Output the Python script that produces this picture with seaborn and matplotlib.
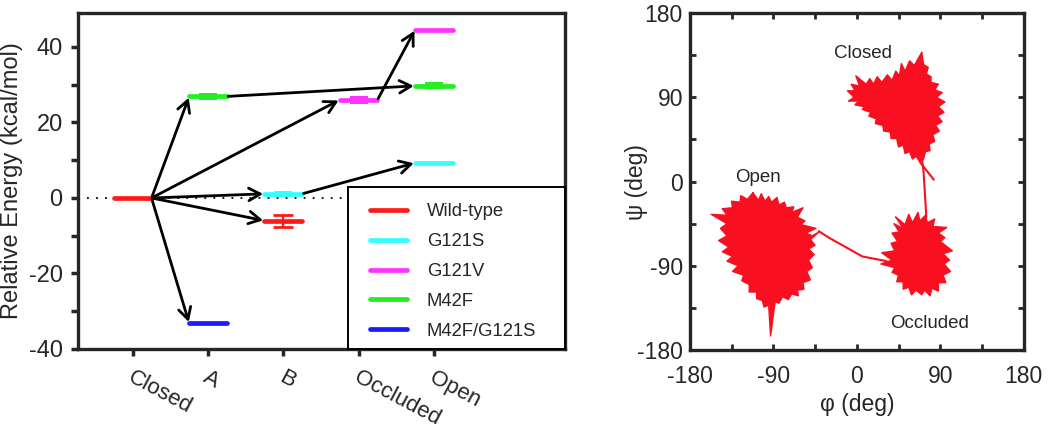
import matplotlib
matplotlib.use("Agg")
import numpy as np
import pandas as pd
import seaborn as sns
import matplotlib.pyplot as plt
import matplotlib.transforms as mtransforms
from matplotlib.patches import Rectangle

# ---------------- left panel data: relative energy levels ----------------
states = ["Closed", "A", "B", "Occluded", "Open"]
series = ["Wild-type", "G121S", "G121V", "M42F", "M42F/G121S"]
series_colors = ["#ff1a1a", "#33ffff", "#ff33ff", "#22ee22", "#1a1aff"]

level_series = ["Wild-type", "Wild-type", "G121S", "G121S", "G121V", "G121V",
                "M42F", "M42F", "M42F/G121S"]
level_state = [0, 2, 2, 4, 3, 4, 1, 4, 1]
level_energy = [0.0, -6.0, 1.1, 9.3, 26.0, 44.6, 26.9, 29.7, -33.2]
level_err = [0.0, 1.6, 0.8, 0.0, 1.1, 0.0, 0.9, 0.9, 0.0]
level_capped = [False, True, False, False, False, False, False, False, False]

# arrows: (from level index, to level index)
transitions = [(0, 6), (0, 8), (0, 4), (0, 2), (0, 1), (6, 7), (4, 5), (2, 3)]

# ---------------- right panel data: phi/psi trajectory outlines ----------------
closed_phi = [70, 72, 77, 75, 80, 80, 88, 84, 92, 86, 95, 88, 94, 87, 92, 85, 89, 82,
              84, 78, 79, 74, 72, 68, 64, 60, 57, 52, 50, 45, 43, 37, 36, 29, 28, 20,
              21, 13, 15, 6, 8, -2, 2, -9, -3, -10, -2, -6, 3, -1, 10, 14, 18, 22, 27,
              33, 38, 42, 46, 48, 52, 57, 62]
closed_psi = [138, 125, 122, 115, 112, 106, 104, 98, 95, 90, 85, 80, 74, 70, 64, 60, 54,
              50, 43, 40, 33, 32, 24, 21, 27, 24, 32, 30, 39, 37, 46, 46, 53, 54, 60, 62,
              67, 70, 74, 77, 80, 82, 86, 86, 90, 97, 97, 104, 102, 113, 104, 110, 104,
              112, 106, 114, 108, 118, 113, 126, 118, 129, 124]

occluded_phi = [42, 52, 56, 60, 66, 68, 74, 76, 84, 82, 97, 88, 95, 90, 103, 93, 100,
                94, 101, 93, 96, 88, 88, 81, 79, 73, 70, 64, 59, 56, 50, 50, 43, 45,
                38, 41, 26, 38, 27, 41, 37, 44, 38, 46, 40, 50]
occluded_psi = [-38, -46, -35, -44, -33, -42, -36, -44, -40, -48, -49, -55, -60, -64,
                -74, -77, -84, -88, -96, -100, -108, -108, -117, -114, -122, -116, -121,
                -116, -121, -113, -115, -107, -107, -100, -97, -92, -88, -84, -76, -74,
                -66, -64, -55, -54, -45, -50]

open_phi = [-112, -106, -103, -99, -95, -92, -86, -84, -78, -76, -68, -70, -58, -64,
            -56, -60, -44, -55, -48, -41, -50, -45, -52, -46, -52, -48, -54, -50, -58,
            -57, -64, -63, -70, -74, -80, -84, -88, -93, -95, -100, -102, -108, -108,
            -116, -116, -124, -122, -134, -128, -140, -134, -145, -138, -149, -140,
            -147, -140, -157, -140, -145, -134, -135, -126, -125, -118]
open_psi = [-12, -20, -13, -21, -16, -22, -17, -25, -22, -28, -27, -33, -28, -38, -42,
            -46, -50, -55, -58, -54, -62, -68, -72, -78, -84, -92, -96, -105, -108,
            -115, -116, -122, -120, -126, -123, -130, -128, -165, -132, -134, -127,
            -125, -118, -118, -110, -106, -100, -96, -90, -85, -80, -75, -70, -63, -58,
            -50, -45, -35, -36, -29, -28, -21, -22, -15, -19]

link_open_phi = [-41, -30, 6, 32]
link_open_psi = [-53, -60, -80, -85]
link_closed_phi = [70, 72, 75]
link_closed_psi = [27, 10, -38]
spur_phi = [68, 83]
spur_psi = [21, 2]

region_names = ["Closed", "Open", "Occluded"]
region_phi = [7, -107, 78]
region_psi = [137, 4, -152]

# ---------------- figure ----------------
sns.set_style("ticks")
plt.rcParams["font.family"] = ["Liberation Sans", "DejaVu Sans"]
plt.rcParams["axes.unicode_minus"] = False

fig = plt.figure(figsize=(10.5, 4.29), dpi=100)
ax1 = fig.add_axes([0.0743, 0.1865, 0.4638, 0.7832])
ax2 = fig.add_axes([0.657, 0.184, 0.318, 0.7855])

color_of = dict(zip(series, series_colors))
half = 0.25

# level segments
rows = []
for i, (s, st, e) in enumerate(zip(level_series, level_state, level_energy)):
    rows.append({"level": i, "series": s, "x": st - half, "energy": e})
    rows.append({"level": i, "series": s, "x": st + half, "energy": e})
levels = pd.DataFrame(rows)

ax1.axhline(0, color="black", lw=1.3, ls=(0, (1, 4)), zorder=0)
sns.lineplot(data=levels, x="x", y="energy", hue="series", hue_order=series,
             palette=series_colors, units="level", estimator=None, sort=False,
             lw=3.4, ax=ax1, zorder=3)

for s, st, e, err, cap in zip(level_series, level_state, level_energy, level_err, level_capped):
    if err <= 0:
        continue
    if cap:
        ax1.errorbar(st, e, yerr=err, color=color_of[s], capsize=7, capthick=2,
                     elinewidth=1.6, zorder=3)
    else:
        ax1.fill_between([st - 0.12, st + 0.12], e - err, e + err,
                         color=color_of[s], lw=0, zorder=3)

for a, b in transitions:
    ax1.annotate("", xy=(level_state[b] - half, level_energy[b]),
                 xytext=(level_state[a] + half, level_energy[a]),
                 arrowprops=dict(arrowstyle="->,head_length=0.55,head_width=0.3",
                                 mutation_scale=15, lw=2.0, color="black",
                                 shrinkA=1, shrinkB=1), zorder=4)

ax1.set_xlim(-0.726, 5.74)
ax1.set_ylim(-40, 49)
ax1.set_xticks(range(len(states)))
ax1.set_xticklabels(states, rotation=-28, ha="left", va="top", fontsize=16)
ax1.set_yticks([-40, -20, 0, 20, 40])
ax1.set_yticks([-30, -10, 10, 30], minor=True)
ax1.tick_params(axis="both", which="both", direction="out", width=2.5, length=5,
                labelsize=17)
ax1.tick_params(axis="x", labelsize=16, pad=8)
ax1.tick_params(axis="y", pad=6)
ax1.set_xlabel("")
ax1.set_ylabel("Relative Energy (kcal/mol)", fontsize=17)
ax1.yaxis.set_label_coords(-0.112, 0.5)
for sp in ax1.spines.values():
    sp.set_visible(True)
    sp.set_linewidth(2.4)
offset = mtransforms.ScaledTranslation(-8 / 100, 0, fig.dpi_scale_trans)
for lab in ax1.get_xticklabels():
    lab.set_transform(lab.get_transform() + offset)

# legend: square box in the lower right corner, entries placed inside it
box = Rectangle((0.554, 0), 0.446, 0.482, transform=ax1.transAxes, facecolor="white",
                edgecolor="black", lw=1.4, zorder=5, clip_on=False)
ax1.add_patch(box)
handles, labels = ax1.get_legend_handles_labels()
for h in handles:
    h.set_linewidth(3.4)
leg = ax1.legend(handles, labels, loc="upper left", bbox_to_anchor=(0.600, 0.434),
                 borderaxespad=0, borderpad=0, frameon=False, fontsize=13.3,
                 handlelength=2.0, handletextpad=1.07, labelspacing=0.70)
leg.set_zorder(6)

# right panel
red = "#f81020"
for phi, psi in [(closed_phi, closed_psi), (occluded_phi, occluded_psi), (open_phi, open_psi)]:
    ax2.fill(phi, psi, color=red, lw=0, zorder=2)
    sns.lineplot(x=phi + [phi[0]], y=psi + [psi[0]], sort=False, estimator=None,
                 color=red, lw=1.0, ax=ax2, zorder=2)
for phi, psi in [(link_open_phi, link_open_psi), (link_closed_phi, link_closed_psi),
                 (spur_phi, spur_psi)]:
    sns.lineplot(x=phi, y=psi, sort=False, estimator=None, color=red, lw=1.5,
                 ax=ax2, zorder=2)

for name, x, y in zip(region_names, region_phi, region_psi):
    ax2.text(x, y, name, fontsize=13.5, ha="center", va="center")

ax2.set_xlim(-180, 180)
ax2.set_ylim(-180, 180)
ax2.set_xticks([-180, -90, 0, 90, 180])
ax2.set_yticks([-180, -90, 0, 90, 180])
ax2.set_xticks([-135, -45, 45, 135], minor=True)
ax2.set_yticks([-135, -45, 45, 135], minor=True)
ax2.tick_params(axis="both", which="both", direction="in", width=2, length=4,
                top=True, right=True, labelsize=16.5)
ax2.tick_params(axis="x", pad=11)
ax2.tick_params(axis="y", pad=5)
ax2.set_xlabel("\u03c6 (deg)", fontsize=16.5, labelpad=3)
ax2.set_ylabel("\u03c8 (deg)", fontsize=16.5)
ax2.yaxis.set_label_coords(-0.126, 0.5)
for sp in ax2.spines.values():
    sp.set_visible(True)
    sp.set_linewidth(2.4)

fig.savefig("out.png", dpi=100)
